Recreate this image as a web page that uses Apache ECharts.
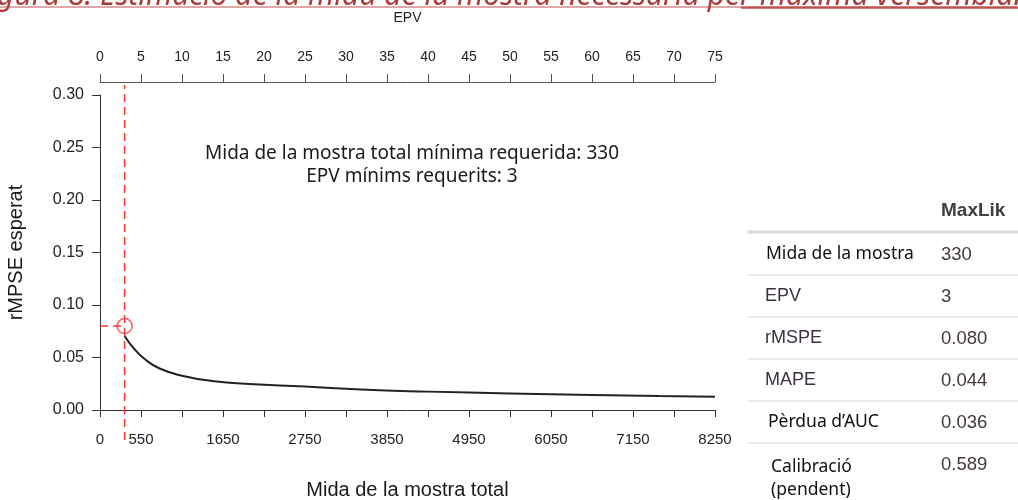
<!DOCTYPE html>
<html>
<head>
<meta charset="utf-8">
<script src="https://cdn.jsdelivr.net/npm/echarts@6/dist/echarts.min.js"></script>
<style>
  html, body { margin: 0; padding: 0; background: #fff; }
  #chart { width: 1018px; height: 500px; }
</style>
</head>
<body>
<div id="chart"></div>
<script>
// ---- data ----
const sampleSizes = [330, 450, 600, 800, 1100, 1500, 2000, 2750, 3500, 4400, 5500, 6600, 7500, 8250];
const rmspeValues = [0.0705, 0.059, 0.0485, 0.0395, 0.0327, 0.0277, 0.0247, 0.0224, 0.0195, 0.0175, 0.0158, 0.0144, 0.0133, 0.0127];
const minSampleSize = 330;
const minEPV = 3;
const minRMSPE = 0.08;
const xMax = 8250, xStep = 550;
const epvMax = 75, epvStep = 5;
const yMax = 0.30, yStep = 0.05;
const tableHeader = "MaxLik";
const tableLabels = ["Mida de la mostra", "EPV", "rMSPE", "MAPE", "Pèrdua d’AUC", "Calibració\n(pendent)"];
const tableValues = ["330", "3", "0.080", "0.044", "0.036", "0.589"];
const titleText = "Figura 8. Estimació de la mida de la mostra necessària per màxima versemblança";
const note1 = "Mida de la mostra total mínima requerida: " + minSampleSize;
const note2 = "EPV mínims requerits: " + minEPV;

const RED = '#ff3030';
const AX = '#333';
const chart = echarts.init(document.getElementById('chart'), null, { renderer: 'canvas' });

const curve = sampleSizes.map((n, i) => [n, rmspeValues[i]]);

// table graphics
const tableGraphics = [];
const rowTop = 232, rowH = 42;
tableGraphics.push({ type: 'text', left: 941, top: 201, style: { text: tableHeader, font: 'bold 19px "Liberation Sans", Arial, sans-serif', fill: '#404040' } });
for (let i = 0; i < 6; i++) {
  const y = rowTop + i * rowH + (i > 0 ? 1 : 0);
  tableGraphics.push({ type: 'line', shape: { x1: 748, y1: y, x2: 1018, y2: y }, style: { stroke: i === 0 ? '#d9d9d9' : '#e3e3e3', lineWidth: i === 0 ? 3 : 1.5 } });
}
const labelFonts = ['17.5px "Noto Sans", sans-serif', '18px "Liberation Sans", Arial, sans-serif', '18px "Liberation Sans", Arial, sans-serif', '18px "Liberation Sans", Arial, sans-serif', '17.5px "Noto Sans", sans-serif', '17.5px "Noto Sans", sans-serif'];
const labelX = [766, 765, 765, 765, 768, 771];
const labelFill = ['#111', '#3a3040', '#3a3040', '#3a3040', '#111', '#111'];
tableLabels.forEach((t, i) => {
  const cy = rowTop + i * rowH + 24;
  if (i < 5) {
    tableGraphics.push({ type: 'text', left: labelX[i], top: cy - 11, style: { text: t, font: labelFonts[i], fill: labelFill[i] } });
  } else {
    tableGraphics.push({ type: 'text', left: labelX[i], top: 456, style: { text: t, font: labelFonts[i], fill: labelFill[i], lineHeight: 23 } });
  }
});
tableValues.forEach((t, i) => {
  const cy = rowTop + i * rowH + 24;
  tableGraphics.push({ type: 'text', left: 941, top: (i < 5 ? cy - 11 : 455), style: { text: t, font: '18.5px "Liberation Sans", Arial, sans-serif', fill: '#443838' } });
});

const option = {
  animation: false,
  backgroundColor: '#fff',
  grid: [
    { left: 100, width: 615, top: 95, height: 315, outerBoundsMode: 'none', containLabel: false },
    { left: 100, width: 615, top: 85, bottom: 60, outerBoundsMode: 'none', containLabel: false }
  ],
  title: [
    { text: note1, left: 407, top: 139, textAlign: 'center', textStyle: { fontFamily: '"Noto Sans", sans-serif', fontSize: 19, fontWeight: 'normal', color: '#1a1a1a' } },
    { text: note2, left: 407, top: 162, textAlign: 'center', textStyle: { fontFamily: '"Noto Sans", sans-serif', fontSize: 19, fontWeight: 'normal', color: '#1a1a1a' } }
  ],
  xAxis: [
    {
      gridIndex: 0, type: 'value', position: 'bottom', min: 0, max: xMax, interval: xStep,
      axisLine: { show: true, lineStyle: { color: AX, width: 1 } },
      axisTick: { show: true, length: 7, lineStyle: { color: AX } },
      splitLine: { show: false },
      axisLabel: {
        margin: 22, color: '#222', fontSize: 15, fontFamily: '"Liberation Sans", Arial, sans-serif',
        formatter: v => (v === 0 || Math.round(v / xStep) % 2 === 1) ? String(v) : ''
      },
      name: 'Mida de la mostra total', nameLocation: 'middle', nameGap: 70,
      nameTextStyle: { fontSize: 20, color: '#1a1a1a', fontFamily: '"Liberation Sans", Arial, sans-serif' }
    },
    {
      gridIndex: 0, type: 'value', position: 'top', offset: 13, min: 0, max: epvMax, interval: epvStep,
      axisLine: { show: true, onZero: false, lineStyle: { color: '#555', width: 1 } },
      axisTick: { show: true, length: 8, lineStyle: { color: '#555' } },
      splitLine: { show: false },
      axisLabel: { margin: 18, color: '#222', fontSize: 14, fontFamily: '"Liberation Sans", Arial, sans-serif' },
      name: 'EPV', nameLocation: 'middle', nameGap: 57,
      nameTextStyle: { fontSize: 14, color: '#222', fontFamily: '"Liberation Sans", Arial, sans-serif' }
    },
    { gridIndex: 1, type: 'value', min: 0, max: xMax, show: false }
  ],
  yAxis: [
    {
      gridIndex: 0, type: 'value', min: 0, max: yMax, interval: yStep,
      axisLine: { show: true, lineStyle: { color: AX, width: 1 } },
      axisTick: { show: true, length: 8, lineStyle: { color: AX } },
      splitLine: { show: false },
      axisLabel: { margin: 16, color: '#222', fontSize: 16, fontFamily: '"Liberation Sans", Arial, sans-serif', formatter: v => v.toFixed(2) },
      name: 'rMPSE esperat', nameLocation: 'middle', nameGap: 74, nameRotate: 90,
      nameTextStyle: { fontSize: 20, color: '#1a1a1a', fontFamily: '"Liberation Sans", Arial, sans-serif' }
    },
    { gridIndex: 1, type: 'value', min: 0, max: 1, show: false }
  ],
  series: [
    {
      type: 'line', xAxisIndex: 0, yAxisIndex: 0, data: curve, smooth: true, symbol: 'none',
      lineStyle: { color: '#222', width: 2 }, z: 3
    },
    {
      type: 'line', xAxisIndex: 0, yAxisIndex: 0, data: [[0, minRMSPE], [minSampleSize, minRMSPE]], symbol: 'none',
      lineStyle: { color: RED, width: 1.5, type: [8, 5] }, z: 2
    },
    {
      type: 'line', xAxisIndex: 2, yAxisIndex: 1, data: [[minSampleSize, 0], [minSampleSize, 1]], symbol: 'none',
      lineStyle: { color: RED, width: 1.5, type: [8, 5] }, z: 2
    },
    {
      type: 'scatter', xAxisIndex: 0, yAxisIndex: 0, data: [[minSampleSize, minRMSPE]], symbol: 'circle', symbolSize: 15,
      itemStyle: { color: 'rgba(0,0,0,0)', borderColor: RED, borderWidth: 1.5 }, z: 4
    }
  ],
  graphic: [
    { type: 'text', x: -25, y: -4, style: { text: titleText, font: 'italic 30px "Noto Sans", sans-serif', fill: '#a83a3a', verticalAlign: 'middle' } },
    { type: 'line', shape: { x1: 0, y1: 7, x2: 741, y2: 7 }, style: { stroke: '#c0504d', lineWidth: 1 } },
    { type: 'line', shape: { x1: 741, y1: 7.5, x2: 1018, y2: 7.5 }, style: { stroke: '#c0504d', lineWidth: 2.5 } },
    ...tableGraphics
  ]
};
chart.setOption(option);
</script>
</body>
</html>
